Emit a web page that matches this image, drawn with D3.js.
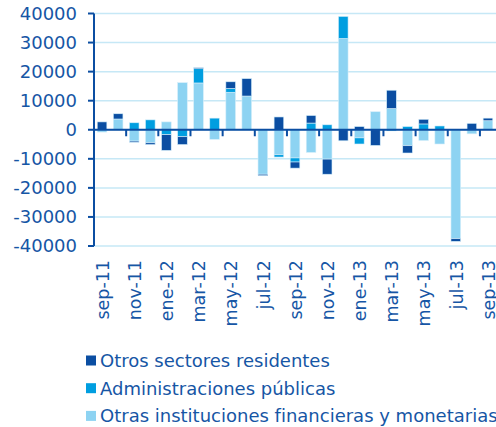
<!DOCTYPE html>
<html lang="es">
<head>
<meta charset="UTF-8">
<script src="https://d3js.org/d3.v7.min.js"></script>
<style>
  html, body { margin: 0; height: 100%; overflow: hidden; background: #fff; }
  text { font-family: "DejaVu Sans", sans-serif; fill: #1656a5; }
</style>
</head>
<body>
<svg id="svg" width="496" height="427"></svg>
<script>
const months = ['sep-11','oct-11','nov-11','dic-11','ene-12','feb-12','mar-12','abr-12','may-12','jun-12','jul-12','ago-12',
  'sep-12','oct-12','nov-12','dic-12','ene-13','feb-13','mar-13','abr-13','may-13','jun-13','jul-13','ago-13','sep-13'];
// Otras instituciones financieras y monetarias
const otrasIFM = [-800, 3700, -3900, -4500, 2700, 16200, 16100, -3300, 12900, 11600, -15300, -8600,
  -9700, -7800, -10100, 31400, -2800, 6200, 7300, -5500, -3700, -4900, -37500, -1400, 3100];
// Administraciones públicas
const aapp = [0, 0, 2400, 3400, -1700, -2400, 4900, 4000, 1300, 0, 0, -800,
  -1400, 2300, 1700, 7600, -2100, 0, -400, 1100, 2000, 1300, 0, 0, 0];
// Otros sectores residentes
const osr = [2700, 1800, -400, -600, -5400, -2700, 350, 0, 2300, 6000, -500, 4400,
  -2100, 2600, -5200, -3800, 1100, -5400, 6300, -2500, 1600, 0, -900, 2200, 900];
const yTicks = [40000, 30000, 20000, 10000, 0, -10000, -20000, -30000, -40000];

const series = [
  {key: 'ifm', name: 'Otras instituciones financieras y monetarias', color: '#8dd3f2', values: otrasIFM},
  {key: 'aapp', name: 'Administraciones públicas', color: '#009ee0', values: aapp},
  {key: 'osr', name: 'Otros sectores residentes', color: '#0b4ea2', values: osr}
];

const table = months.map((m, i) => {
  const row = {month: m};
  series.forEach(s => row[s.key] = s.values[i]);
  return row;
});

const svg = d3.select('#svg');
const x = d3.scaleBand().domain(months).range([94, 496]).paddingInner(0.4).paddingOuter(0.2);
const y = d3.scaleLinear().domain([-40000, 40000]).range([246, 13.5]);

// grid
svg.append('g').selectAll('line').data(yTicks).join('line')
  .attr('x1', 94).attr('x2', 496)
  .attr('y1', d => y(d)).attr('y2', d => y(d))
  .attr('stroke', '#c6e8f6').attr('stroke-width', 1.5);

// bars
const stacked = d3.stack().keys(series.map(s => s.key)).offset(d3.stackOffsetDiverging)(table);
svg.append('g').selectAll('g').data(stacked).join('g')
  .attr('fill', (d, i) => series[i].color)
  .selectAll('rect').data(d => d).join('rect')
  .attr('x', d => x(d.data.month))
  .attr('width', x.bandwidth())
  .attr('y', d => y(Math.max(d[0], d[1])))
  .attr('height', d => Math.abs(y(d[0]) - y(d[1])))
  .attr('stroke', '#d6eefa').attr('stroke-width', 0.6);

// y axis
svg.append('line').attr('x1', 94).attr('x2', 94).attr('y1', y(40000)).attr('y2', y(-40000))
  .attr('stroke', '#0b4ea2').attr('stroke-width', 2);
svg.append('g').selectAll('line').data(yTicks).join('line')
  .attr('x1', 88).attr('x2', 94).attr('y1', d => y(d)).attr('y2', d => y(d))
  .attr('stroke', '#0b4ea2').attr('stroke-width', 2);
svg.append('g').selectAll('text').data(yTicks).join('text')
  .attr('x', 77).attr('y', d => y(d)).attr('dy', '0.36em')
  .attr('text-anchor', 'end').attr('font-size', 18)
  .text(d => d);

// zero line + category ticks
svg.append('line').attr('x1', 94).attr('x2', 496).attr('y1', y(0)).attr('y2', y(0))
  .attr('stroke', '#0b4ea2').attr('stroke-width', 2.2);
const step = x.step();
const tickMonths = months.filter((m, i) => i > 0 && i % 2 === 0);
svg.append('g').selectAll('line').data(tickMonths).join('line')
  .attr('x1', d => x(d) - step * 0.2).attr('x2', d => x(d) - step * 0.2)
  .attr('y1', y(0)).attr('y2', y(0) + 6.5)
  .attr('stroke', '#0b4ea2').attr('stroke-width', 2);

// x labels
const labelMonths = months.filter((m, i) => i % 2 === 0);
svg.append('g').selectAll('text').data(labelMonths).join('text')
  .attr('transform', d => `translate(${x(d) + x.bandwidth() / 2 + 0.5},260) rotate(-90)`)
  .attr('dy', '0.36em').attr('text-anchor', 'end').attr('font-size', 17.5)
  .text(d => d);

// legend
const legend = [series[2], series[1], series[0]];
const lg = svg.append('g').selectAll('g').data(legend).join('g')
  .attr('transform', (d, i) => `translate(86,${360.5 + i * 27.7})`);
lg.append('rect').attr('x', 0).attr('y', -5).attr('width', 10).attr('height', 10).attr('fill', d => d.color);
lg.append('text').attr('x', 14).attr('dy', '0.36em').attr('font-size', 18).text(d => d.name);
</script>
</body>
</html>
